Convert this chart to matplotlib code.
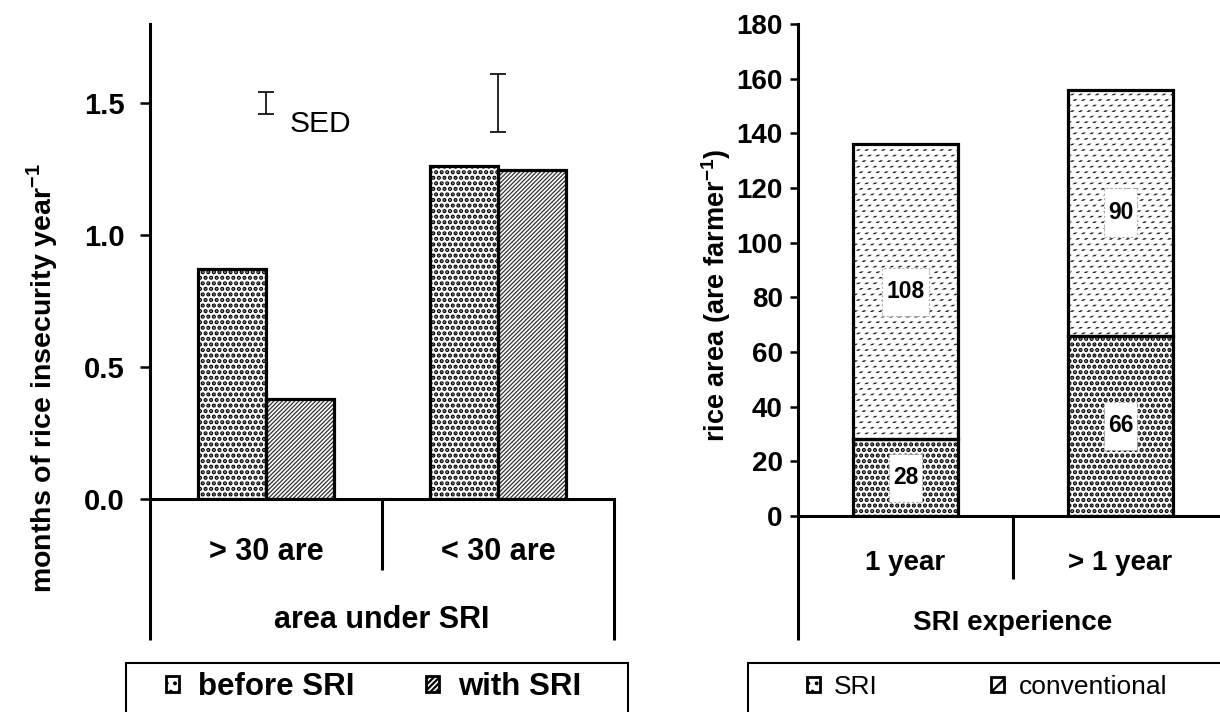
import matplotlib
matplotlib.use('Agg')
import matplotlib.pyplot as plt
from matplotlib.patches import Rectangle, Patch
from matplotlib.path import Path
import matplotlib.transforms as mtransforms

plt.rcParams['font.family'] = ['Liberation Sans', 'DejaVu Sans']
plt.rcParams['mathtext.fontset'] = 'custom'
plt.rcParams['mathtext.rm'] = 'Liberation Sans'
plt.rcParams['mathtext.bf'] = 'Liberation Sans:bold'

# ---------------- data ----------------
area_cats = ['> 30 are', '< 30 are']
area_title = 'area under SRI'
before_sri = [0.87, 1.26]
with_sri = [0.38, 1.245]
sed_center = [1.5, 1.5]
sed_length = [0.083, 0.218]
left_yticks = [0.0, 0.5, 1.0, 1.5]
left_ylabel = r'months of rice insecurity year$^{\mathbf{-1}}$'
left_legend = ['before SRI', 'with SRI']

exp_cats = ['1 year', '> 1 year']
exp_title = 'SRI experience'
sri_area = [28, 66]
conv_area = [108, 90]
right_yticks = [0, 20, 40, 60, 80, 100, 120, 140, 160, 180]
right_ylabel = r'rice area (are farmer$^{\mathbf{-1}}$)'
right_legend = ['SRI', 'conventional']

W, H = 1220, 712
fig = plt.figure(figsize=(W / 100, H / 100), dpi=100)


def set_hlw(artists, lw):
    for a in artists:
        if hasattr(a, 'set_hatch_linewidth'):
            a.set_hatch_linewidth(lw)


def stipple(ax, x, h, w, bottom=None):
    plt.rcParams['hatch.linewidth'] = 2.1
    b = ax.bar(x, h, w, bottom=bottom, color='white', edgecolor='black',
               hatch='...', linewidth=0, zorder=2)
    set_hlw(b, 2.1)
    return b


def diag(ax, x, h, w, bottom=None):
    plt.rcParams['hatch.linewidth'] = 0.9
    b = ax.bar(x, h, w, bottom=bottom, color='white', edgecolor='#333333',
               hatch='////////', linewidth=0, zorder=2)
    set_hlw(b, 0.9)
    return b


def dashed_diag(ax, x, h, w, bottom=None):
    plt.rcParams['hatch.linewidth'] = 1.5
    b = ax.bar(x, h, w, bottom=bottom, color='white', edgecolor='#2a2a2a',
               hatch='////', linewidth=0, zorder=2)
    set_hlw(b, 1.5)
    plt.rcParams['hatch.linewidth'] = 2.8
    b2 = ax.bar(x, h, w, bottom=bottom, fill=False, edgecolor='white',
                hatch='---', linewidth=0, zorder=2.1)
    set_hlw(b2, 2.8)
    return b


def outline(ax, x, h, w, bottom=None):
    ax.bar(x, h, w, bottom=bottom, fill=False, edgecolor='black',
           linewidth=2.3, zorder=3)


def label_box(x0, y0, width, height, mutation_size):
    px = 0.17 * mutation_size
    py = 0.55 * mutation_size
    x0 -= px
    y0 -= py
    x1 = x0 + width + 2 * px
    y1 = y0 + height + 2 * py
    return Path([(x0, y0), (x1, y0), (x1, y1), (x0, y1), (x0, y0)], closed=True)


def category_axis(ax, cats, title, cat_fs, base_cat, base_title, sep_len, end_len):
    n = len(cats)
    trans = mtransforms.blended_transform_factory(ax.transData, ax.transAxes)
    bounds = [i - 0.5 for i in range(n + 1)]
    for i, xb in enumerate(bounds):
        yl = end_len if i in (0, n) else sep_len
        ax.plot([xb, xb], [0, yl], color='black', lw=2.2, transform=trans,
                clip_on=False, solid_capstyle='butt', zorder=4)
    for i, c in enumerate(cats):
        ax.text(i, base_cat, c, transform=trans, ha='center', va='baseline',
                fontsize=cat_fs, fontweight='bold')
    ax.text((bounds[0] + bounds[-1]) / 2, base_title, title, transform=trans,
            ha='center', va='baseline', fontsize=cat_fs, fontweight='bold')


# ---------------- left panel ----------------
axL = fig.add_axes([150 / W, 1 - 499 / H, 464 / W, 475 / H])
xl = list(range(len(area_cats)))
bw = 0.293
xb = [x - bw / 2 for x in xl]
xw = [x + bw / 2 for x in xl]
stipple(axL, xb, before_sri, bw)
outline(axL, xb, before_sri, bw)
diag(axL, xw, with_sri, bw)
outline(axL, xw, with_sri, bw)

axL.errorbar(xl, sed_center, yerr=[s / 2 for s in sed_length], fmt='none',
             ecolor='black', elinewidth=1.2, capsize=5.5, capthick=1.2, zorder=5)
axL.text(0.1, 1.42, 'SED', fontsize=21.5, ha='left', va='center')

axL.set_xlim(-0.5, len(area_cats) - 0.5)
axL.set_ylim(0, 1.8)
axL.set_yticks(left_yticks)
axL.set_yticklabels([f'{v:.1f}' for v in left_yticks], fontsize=21, fontweight='bold')
axL.set_xticks([])
for s in ['top', 'right']:
    axL.spines[s].set_visible(False)
axL.spines['left'].set_linewidth(2.2)
axL.spines['bottom'].set_linewidth(2.2)
axL.tick_params(axis='y', direction='out', length=7, width=1.8, pad=11)
axL.set_ylabel(left_ylabel, fontsize=20.5, fontweight='bold', va='center')
axL.yaxis.set_label_coords((42 - 150) / 464, (499 - 378) / 475)
category_axis(axL, area_cats, area_title, 22, (499 - 560) / 475, (499 - 628) / 475,
              (499 - 570) / 475, (499 - 640) / 475)

# ---------------- right panel ----------------
axR = fig.add_axes([798 / W, 1 - 516 / H, 430 / W, 492 / H])
xr = list(range(len(exp_cats)))
bw2 = 0.488
stipple(axR, xr, sri_area, bw2)
outline(axR, xr, sri_area, bw2)
dashed_diag(axR, xr, conv_area, bw2, bottom=sri_area)
outline(axR, xr, conv_area, bw2, bottom=sri_area)

box = dict(boxstyle=label_box, fc='white', ec='#b0b0b0', ls=(0, (2, 2)), lw=0.8)
for x, s, c in zip(xr, sri_area, conv_area):
    axR.text(x, s / 2, f'{s}', ha='center', va='center', fontsize=16.5,
             fontweight='bold', bbox=box, zorder=6)
    axR.text(x, s + c / 2, f'{c}', ha='center', va='center', fontsize=16.5,
             fontweight='bold', bbox=box, zorder=6)

axR.set_xlim(-0.5, len(exp_cats) - 0.5)
axR.set_ylim(0, 180)
axR.set_yticks(right_yticks)
axR.set_yticklabels([str(v) for v in right_yticks], fontsize=20, fontweight='bold')
axR.set_xticks([])
for s in ['top', 'right']:
    axR.spines[s].set_visible(False)
axR.spines['left'].set_linewidth(2.2)
axR.spines['bottom'].set_linewidth(2.2)
axR.tick_params(axis='y', direction='out', length=6, width=1.8, pad=5)
axR.set_ylabel(right_ylabel, fontsize=19.5, fontweight='bold', va='center')
axR.yaxis.set_label_coords((716 - 798) / 430, (516 - 295) / 492)
category_axis(axR, exp_cats, exp_title, 20, (516 - 570) / 492, (516 - 630) / 492,
              (516 - 579) / 492, (516 - 640) / 492)

# ---------------- legends ----------------
fig.add_artist(Rectangle((126 / W, -0.01), (628 - 126) / W, 0.01 + 1 - 663 / H,
                         transform=fig.transFigure, fill=False, ec='black', lw=1.5))
fig.add_artist(Rectangle((748 / W, -0.01), (1240 - 748) / W, 0.01 + 1 - 663 / H,
                         transform=fig.transFigure, fill=False, ec='black', lw=1.5))

plt.rcParams['hatch.linewidth'] = 1.6
hL = [Patch(facecolor='white', edgecolor='black', hatch='..', lw=2.0),
      Patch(facecolor='white', edgecolor='black', hatch='//////', lw=2.0)]
legL = fig.legend(hL, left_legend, loc='center left', bbox_to_anchor=(166 / W, 0.035),
                  ncol=2, frameon=False, borderpad=0, borderaxespad=0,
                  handlelength=0.42, handleheight=0.42, handletextpad=0.6,
                  columnspacing=2.3, prop={'size': 22.5, 'weight': 'bold'})
hR = [Patch(facecolor='white', edgecolor='black', hatch='..', lw=2.0),
      Patch(facecolor='white', edgecolor='black', hatch='//', lw=2.0)]
legR = fig.legend(hR, right_legend, loc='center left', bbox_to_anchor=(807 / W, 0.035),
                  ncol=2, frameon=False, borderpad=0, borderaxespad=0,
                  handlelength=0.48, handleheight=0.48, handletextpad=0.55,
                  columnspacing=4.3, prop={'size': 19})

fig.savefig('out.png', dpi=100)
